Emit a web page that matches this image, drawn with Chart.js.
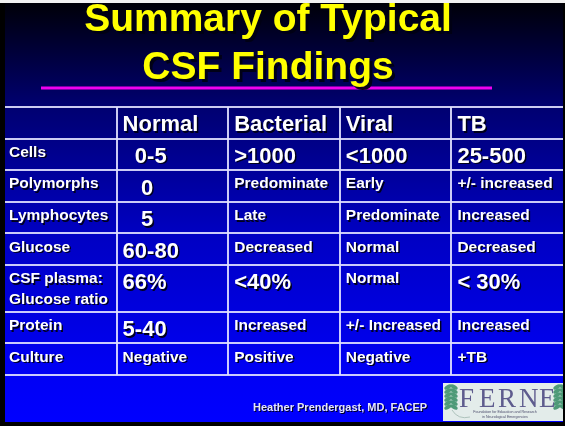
<!DOCTYPE html>
<html>
<head>
<meta charset="utf-8">
<script src="https://cdn.jsdelivr.net/npm/chart.js@4/dist/chart.umd.min.js"></script>
<style>
  html, body { margin: 0; padding: 0; background: #000; overflow: hidden; }
  canvas { display: block; }
</style>
</head>
<body>
<canvas id="slide" width="565" height="426"></canvas>
<script>
// table content
const titleLines = ['Summary of Typical', 'CSF Findings'];
const columns = ['Normal', 'Bacterial', 'Viral', 'TB'];
const rowLabels = ['Cells', 'Polymorphs', 'Lymphocytes', 'Glucose', 'CSF plasma:\nGlucose ratio', 'Protein', 'Culture'];
const normalValues = ['  0-5', '   0', '   5', '60-80', '66%', '5-40', 'Negative'];
const bacterialValues = ['>1000', 'Predominate', 'Late', 'Decreased', '<40%', 'Increased', 'Positive'];
const viralValues = ['<1000', 'Early', 'Predominate', 'Normal', 'Normal', '+/- Increased', 'Negative'];
const tbValues = ['25-500', '+/- increased', 'Increased', 'Decreased', '< 30%', 'Increased', '+TB'];
const footer = 'Heather Prendergast, MD, FACEP';

const valueColumns = [normalValues, bacterialValues, viralValues, tbValues];

// row boundaries on the y scale: header row + data rows, two-line rows are 1.5 high
function rowHeight(label) { return 1 + 0.5 * (label.split('\n').length - 1); }
const rowBounds = [0, 1];
rowLabels.forEach(function(label) {
    rowBounds.push(rowBounds[rowBounds.length - 1] + rowHeight(label));
});
const rowEnd = rowBounds[rowBounds.length - 1];
const colBounds = [0, 1, 2, 3, 4, 5];

const FONT = '"Liberation Sans", Arial, sans-serif';
const LINE = 'rgba(225, 225, 255, 0.9)';
const BIG = 22;
const SMALL = 15.5;

function text(ctx, str, x, y, size, color, shadow) {
    ctx.save();
    ctx.font = 'bold ' + size + 'px ' + FONT;
    ctx.fillStyle = color;
    ctx.textBaseline = 'alphabetic';
    ctx.shadowColor = 'rgba(0, 0, 20, 0.95)';
    ctx.shadowOffsetX = shadow;
    ctx.shadowOffsetY = shadow;
    ctx.shadowBlur = 0;
    ctx.fillText(str, x, y);
    ctx.restore();
}

const slidePlugin = {
    id: 'slide',
    beforeDraw(chart) {
        const ctx = chart.ctx;
        const w = chart.width, h = chart.height;
        ctx.save();
        ctx.fillStyle = '#000';
        ctx.fillRect(0, 0, w, h);
        const g = ctx.createLinearGradient(0, 3, 0, 422);
        g.addColorStop(0, '#000008');
        g.addColorStop(0.24, '#00006e');
        g.addColorStop(0.55, '#0000c2');
        g.addColorStop(0.86, '#0000f2');
        g.addColorStop(1, '#0000ff');
        ctx.fillStyle = g;
        ctx.fillRect(5, 3, 558, 419);
        ctx.restore();
    },
    afterDraw(chart) {
        const ctx = chart.ctx;
        const xs = chart.scales.x, ys = chart.scales.y;

        // title underline, then title
        ctx.save();
        ctx.strokeStyle = '#f000f0';
        ctx.lineWidth = 3;
        ctx.beginPath();
        ctx.moveTo(41, 88);
        ctx.lineTo(492, 88);
        ctx.stroke();
        ctx.restore();
        ctx.save();
        ctx.textAlign = 'center';
        text(ctx, titleLines[0], 268, 31, 39, '#ffff00', 3);
        text(ctx, titleLines[1], 268, 79, 39, '#ffff00', 3);
        ctx.restore();
        // white strip along the top edge of the slide
        ctx.save();
        ctx.fillStyle = '#f2f2f2';
        ctx.fillRect(0, 0, chart.width, 3);
        ctx.restore();

        // header row
        const headTop = ys.getPixelForValue(rowBounds[0]);
        columns.forEach(function(name, c) {
            text(ctx, name, xs.getPixelForValue(c + 1) + 6, headTop + 4 + 0.93 * BIG, BIG, '#ffffff', 1.5);
        });

        // data rows
        rowLabels.forEach(function(label, r) {
            const top = ys.getPixelForValue(rowBounds[r + 1]);
            label.split('\n').forEach(function(line, k) {
                text(ctx, line, xs.getPixelForValue(0) + 4, top + 4 + 0.93 * SMALL + k * 20.5, SMALL, '#ffffff', 1.5);
            });
            valueColumns.forEach(function(values, c) {
                const v = values[r];
                const size = /^[\s\d<>]/.test(v) ? BIG : SMALL;
                text(ctx, v, xs.getPixelForValue(c + 1) + 6, top + 4 + 0.93 * size, size, '#ffffff', 1.5);
            });
        });

        // footer
        text(ctx, footer, 253, 411, 11, '#e4e4ff', 1);

        // FERNE logo
        ctx.save();
        ctx.fillStyle = '#e3ecea';
        ctx.fillRect(443, 383, 120, 38);
        ctx.fillStyle = '#4e9a78';
        [[451, 397], [560, 397]].forEach(function(p) {
            for (let i = 0; i < 6; i++) {
                ctx.beginPath();
                ctx.ellipse(p[0] - 3, p[1] - 10 + i * 4, 4, 2, -0.5, 0, Math.PI * 2);
                ctx.fill();
                ctx.beginPath();
                ctx.ellipse(p[0] + 3, p[1] - 10 + i * 4, 4, 2, 0.5, 0, Math.PI * 2);
                ctx.fill();
            }
        });
        ctx.fillStyle = '#000';
        ctx.fillRect(563, 383, 2, 38);
        ctx.font = '27px "Liberation Serif", "DejaVu Serif", serif';
        ctx.fillStyle = '#5e5c8e';
        ctx.textBaseline = 'alphabetic';
        const lx = [459, 479, 498, 519, 539];
        'FERNE'.split('').forEach(function(ch, i) { ctx.fillText(ch, lx[i], 407); });
        ctx.font = '3.6px ' + FONT;
        ctx.fillStyle = '#4a4a6a';
        ctx.textAlign = 'center';
        ctx.fillText('Foundation for Education and Research', 505, 413);
        ctx.fillText('in Neurological Emergencies', 505, 418);
        ctx.strokeStyle = '#9fb8b0';
        ctx.lineWidth = 0.8;
        ctx.beginPath();
        ctx.moveTo(452, 410);
        ctx.quadraticCurveTo(458, 420, 470, 417);
        ctx.stroke();
        ctx.restore();
    }
};

new Chart(document.getElementById('slide').getContext('2d'), {
    type: 'scatter',
    data: { datasets: [] },
    options: {
        responsive: false,
        animation: false,
        devicePixelRatio: 1,
        layout: { padding: { left: 5, right: 2, top: 107, bottom: 51 } },
        plugins: { legend: { display: false }, tooltip: { enabled: false } },
        scales: {
            x: {
                type: 'linear',
                min: 0,
                max: 5,
                afterBuildTicks: function(scale) { scale.ticks = colBounds.map(function(v) { return { value: v }; }); },
                ticks: { display: false },
                border: { display: false },
                grid: {
                    drawTicks: false,
                    lineWidth: 2,
                    color: function(c) { return (c.tick && (c.tick.value === 0 || c.tick.value === 5)) ? 'rgba(0,0,0,0)' : LINE; }
                }
            },
            y: {
                type: 'linear',
                reverse: true,
                min: 0,
                max: rowEnd,
                afterBuildTicks: function(scale) { scale.ticks = rowBounds.map(function(v) { return { value: v }; }); },
                ticks: { display: false },
                border: { display: false },
                grid: { drawTicks: false, lineWidth: 2, color: LINE }
            }
        }
    },
    plugins: [slidePlugin]
});
</script>
</body>
</html>
